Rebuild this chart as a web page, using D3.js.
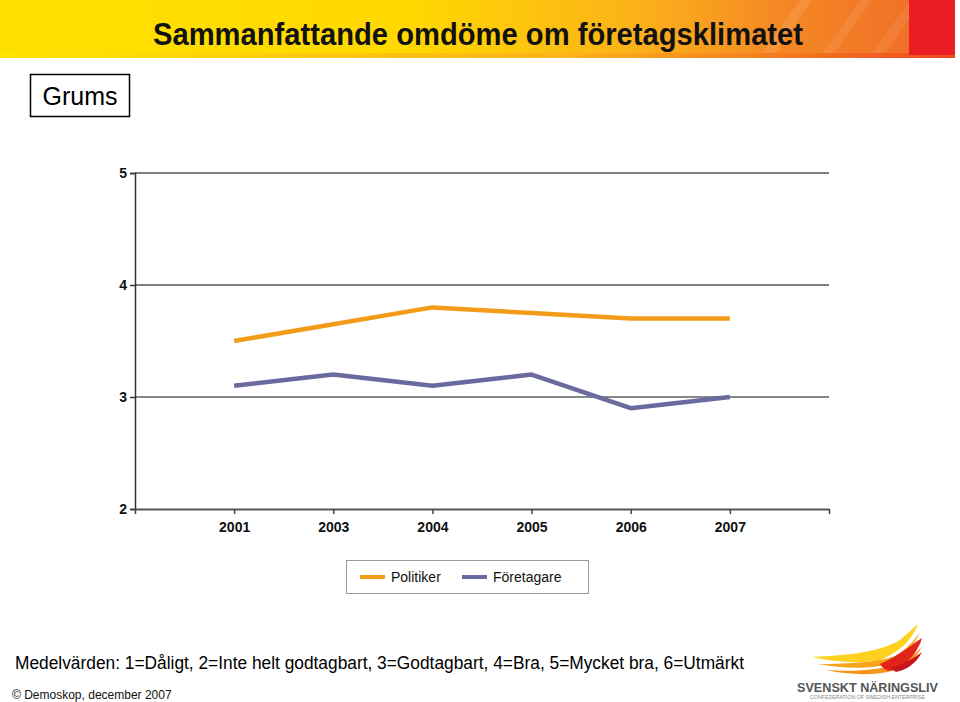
<!DOCTYPE html>
<html><head><meta charset="utf-8">
<script src="https://cdn.jsdelivr.net/npm/d3@7/dist/d3.min.js"></script>
<style>body{margin:0;background:#fff;}svg{display:block;font-family:"Liberation Sans",Arial,sans-serif;}</style>
</head><body>
<script>
const categories = ["", "2001", "2003", "2004", "2005", "2006", "2007", " "];
const years = ["2001", "2003", "2004", "2005", "2006", "2007"];
const politiker = [3.5, 3.65, 3.8, 3.75, 3.7, 3.7];
const foretagare = [3.1, 3.2, 3.1, 3.2, 2.9, 3.0];
const yTicks = [2, 3, 4, 5];
const seriesNames = ["Politiker", "Företagare"];
const seriesColors = ["#f39c1a", "#6a6a9e"];

const W = 960, H = 702;
const svg = d3.select("body").append("svg").attr("width", W).attr("height", H);
const defs = svg.append("defs");

// Banner
const g1 = defs.append("linearGradient").attr("id", "ban").attr("x1", "0").attr("x2", "1");
g1.append("stop").attr("offset", "0").attr("stop-color", "#ffe100");
g1.append("stop").attr("offset", "0.45").attr("stop-color", "#ffd800");
g1.append("stop").attr("offset", "0.7").attr("stop-color", "#fbb21a");
g1.append("stop").attr("offset", "0.85").attr("stop-color", "#f58a24");
g1.append("stop").attr("offset", "1").attr("stop-color", "#f07027");
svg.append("rect").attr("x", 0).attr("y", 0).attr("width", 910).attr("height", 57).attr("fill", "url(#ban)");
// subtle diagonal streaks
[[760, 0.10], [820, 0.08], [870, 0.08]].forEach(([x, o]) => {
  svg.append("path").attr("d", `M${x},57 L${x + 40},0 L${x + 52},0 L${x + 12},57 Z`).attr("fill", "#ffffff").attr("opacity", o);
});
const g2 = defs.append("linearGradient").attr("id", "banb").attr("x1", "0").attr("x2", "1");
g2.append("stop").attr("offset", "0").attr("stop-color", "#ffe600");
g2.append("stop").attr("offset", "0.6").attr("stop-color", "#fbb21a");
g2.append("stop").attr("offset", "1").attr("stop-color", "#ee4a23");
svg.append("rect").attr("x", 0).attr("y", 53).attr("width", 955).attr("height", 5).attr("fill", "url(#banb)");
svg.append("rect").attr("x", 909).attr("y", 0).attr("width", 46).attr("height", 55).attr("fill", "#ec1c24");

svg.append("text").attr("x", 478).attr("y", 45).attr("text-anchor", "middle")
  .attr("font-family", "'Liberation Sans Narrow','Arial Narrow',sans-serif")
  .attr("font-weight", "bold").attr("font-size", 32).attr("fill", "#111")
  .attr("textLength", 650).attr("lengthAdjust", "spacingAndGlyphs")
  .text("Sammanfattande omdöme om företagsklimatet");

// Grums box
svg.append("rect").attr("x", 30.5).attr("y", 74.5).attr("width", 99).attr("height", 42)
  .attr("fill", "none").attr("stroke", "#000").attr("stroke-width", 1.5);
svg.append("text").attr("x", 80).attr("y", 105).attr("text-anchor", "middle")
  .attr("font-size", 25).attr("fill", "#000").text("Grums");

// Scales
const x = d3.scalePoint().domain(categories).range([135, 829]);
const y = d3.scaleLinear().domain([2, 5]).range([509, 173]);

// gridlines
svg.append("g").selectAll("line").data(yTicks.filter(d => d > 2)).join("line")
  .attr("x1", 135).attr("x2", 829).attr("y1", d => y(d)).attr("y2", d => y(d))
  .attr("stroke", d => d === 3 ? "#111" : "#555").attr("stroke-width", d => d === 3 ? 1.2 : 1.5);

// Y axis
const yAxis = svg.append("g").attr("transform", "translate(135,0)")
  .call(d3.axisLeft(y).tickValues(yTicks).tickFormat(d3.format("d")).tickSize(5).tickPadding(3));
yAxis.select(".domain").attr("stroke", "#333").attr("stroke-width", 1.5);
yAxis.selectAll(".tick line").attr("stroke", "#333").attr("stroke-width", 1.5);
yAxis.selectAll("text").attr("font-size", 14).attr("font-weight", "bold").attr("fill", "#111")
  .attr("font-family", "'Liberation Sans',Arial,sans-serif");

// X axis
const xAxis = svg.append("g").attr("transform", "translate(0,509)")
  .call(d3.axisBottom(x).tickSize(5).tickPadding(8).tickSizeOuter(0));
xAxis.select(".domain").attr("stroke", "#555").attr("stroke-width", 2);
xAxis.selectAll(".tick line").attr("stroke", "#444").attr("stroke-width", 1.5);
xAxis.selectAll("text").attr("font-size", 14).attr("font-weight", "bold").attr("fill", "#111")
  .attr("font-family", "'Liberation Sans',Arial,sans-serif");

// Lines
const line = d3.line().x((d, i) => x(years[i])).y(d => y(d));
[politiker, foretagare].forEach((vals, k) => {
  svg.append("path").datum(vals).attr("d", line).attr("fill", "none")
    .attr("stroke", seriesColors[k]).attr("stroke-width", 4.5).attr("stroke-linejoin", "round");
});

// Legend
svg.append("rect").attr("x", 346.5).attr("y", 560.5).attr("width", 242).attr("height", 33)
  .attr("fill", "#fff").attr("stroke", "#999").attr("stroke-width", 1);
const legX = [360, 462];
seriesNames.forEach((n, k) => {
  svg.append("line").attr("x1", legX[k]).attr("x2", legX[k] + 25).attr("y1", 577).attr("y2", 577)
    .attr("stroke", seriesColors[k]).attr("stroke-width", 4);
  svg.append("text").attr("x", legX[k] + 31).attr("y", 582).attr("font-size", 14).attr("fill", "#111").text(n);
});

// Footer
svg.append("text").attr("x", 15).attr("y", 669).attr("font-size", 17.5).attr("fill", "#000")
  .attr("textLength", 729).attr("lengthAdjust", "spacingAndGlyphs")
  .text("Medelvärden: 1=Dåligt, 2=Inte helt godtagbart, 3=Godtagbart, 4=Bra, 5=Mycket bra, 6=Utmärkt");
svg.append("text").attr("x", 12).attr("y", 699).attr("font-size", 12).attr("fill", "#111")
  .text("© Demoskop, december 2007");

// Logo (approximate wing)
const lg = svg.append("g");
const feathers = [
  ["M812,657 C850,655 880,652 900,640 L918,624 C912,640 900,652 880,660 C860,664 835,662 812,657 Z", "#fcd21f"],
  ["M818,664 C850,664 878,662 896,656 C905,650 915,640 920,632 C914,646 904,658 888,664 C868,670 840,668 818,664 Z", "#f9a51b"],
  ["M826,670 C855,672 880,670 898,664 C908,660 916,654 922,646 C916,660 904,668 888,672 C866,676 845,674 826,670 Z", "#f7941d"],
  ["M880,664 C898,656 910,646 922,638 C918,652 908,664 894,670 C888,672 884,670 880,664 Z", "#e2231a"],
  ["M890,668 C904,664 914,658 922,652 C916,664 906,670 896,672 Z", "#c4161c"]
];
feathers.forEach(([d, c]) => lg.append("path").attr("d", d).attr("fill", c));
svg.append("text").attr("x", 797).attr("y", 692).attr("font-size", 13).attr("font-weight", "bold")
  .attr("fill", "#555").attr("textLength", 141).attr("lengthAdjust", "spacingAndGlyphs").text("SVENSKT NÄRINGSLIV");
svg.append("text").attr("x", 810).attr("y", 699).attr("font-size", 4.5).attr("fill", "#888")
  .attr("textLength", 115).attr("lengthAdjust", "spacingAndGlyphs").text("CONFEDERATION OF SWEDISH ENTERPRISE");
</script>
</body></html>
